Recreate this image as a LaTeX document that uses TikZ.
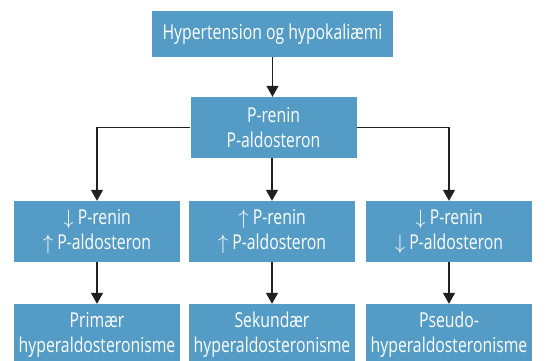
\documentclass[tikz,border=0pt]{standalone}
\usepackage{fontspec}
\setmainfont[FakeStretch=0.77]{Open Sans}
\usepackage{xcolor}
\definecolor{boxblue}{RGB}{84,156,197}
\definecolor{linegray}{RGB}{35,31,32}
\usetikzlibrary{arrows.meta, positioning}

\begin{document}
\begin{tikzpicture}[x=1pt, y=-1pt,
  box/.style={fill=boxblue, text=white, align=center, minimum width=166pt, minimum height=61pt, inner sep=0pt, font=\fontsize{20.5}{25}\selectfont},
  tbox/.style={box, minimum width=241pt, minimum height=46pt},
  link/.style={->, draw=linegray, line width=1.3pt},
  >={Triangle[width=12pt, length=11pt]}
]
\clip (0,0) rectangle (560,361);
\node[tbox] (top) at (272.5,34) {Hypertension og hypokaliæmi};
\node[box] (mid) at (273.5,127.5) {P-renin\\ P-aldosteron};
\node[box] (r1) at (97,231.5) {$\downarrow$ P-renin\\ $\uparrow$ P-aldosteron};
\node[box] (r2) at (272,231.5) {$\uparrow$ P-renin\\ $\uparrow$ P-aldosteron};
\node[box] (r3) at (449,231.5) {$\downarrow$ P-renin\\ $\downarrow$ P-aldosteron};
\node[box] (b1) at (97,334.5) {Primær\\ hyperaldosteronisme};
\node[box] (b2) at (272,334.5) {Sekundær\\ hyperaldosteronisme};
\node[box] (b3) at (449,334.5) {Pseudo-\\ hyperaldosteronisme};
\draw[link] (top.south) -- (top.south |- mid.north);
\draw[link] (mid.west) -| (r1.north);
\draw[link] (mid.south -| r2.north) -- (r2.north);
\draw[link] (mid.east) -| (r3.north);
\draw[link] (r1) -- (b1);
\draw[link] (r2) -- (b2);
\draw[link] (r3) -- (b3);
\end{tikzpicture}
\end{document}
